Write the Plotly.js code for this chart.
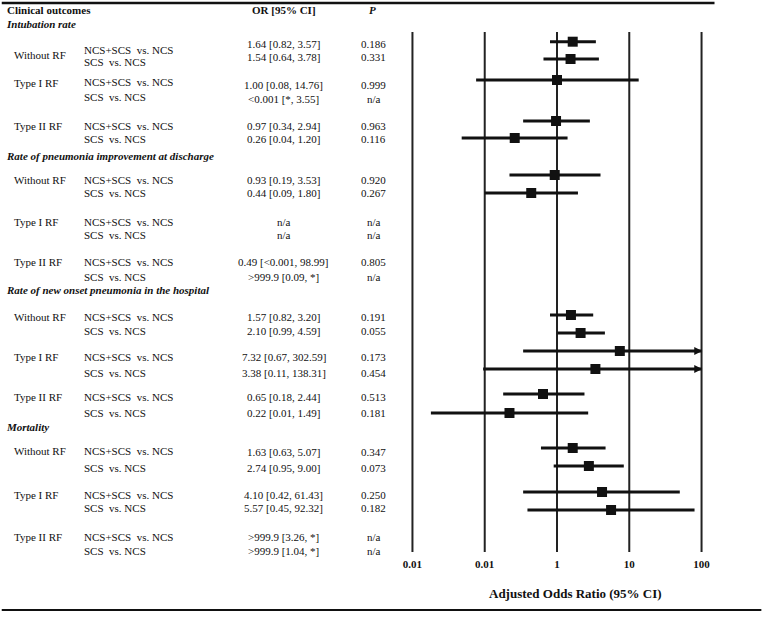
<!DOCTYPE html>
<html><head><meta charset="utf-8">
<script src="https://cdn.plot.ly/plotly-3.0.1.min.js"></script>
<style>html,body{margin:0;padding:0;background:#fff}#chart{width:764px;height:618px}</style>
</head><body><div id="chart"></div>
<script>
// ---------- data ----------
const headers = ["Clinical outcomes", "OR [95% CI]", "P"];
const outcomes = ["Intubation rate", "Rate of pneumonia improvement at discharge",
  "Rate of new onset pneumonia in the hospital", "Mortality"];
const groups = ["Without RF", "Type I RF", "Type II RF"];
const comparisons = ["NCS+SCS\u00a0 vs. NCS", "SCS\u00a0 vs. NCS"];
const orLabels = [
  "1.64 [0.82, 3.57]", "1.54 [0.64, 3.78]",
  "1.00 [0.08, 14.76]", "<0.001 [*, 3.55]",
  "0.97 [0.34, 2.94]", "0.26 [0.04, 1.20]",
  "0.93 [0.19, 3.53]", "0.44 [0.09, 1.80]",
  "n/a", "n/a",
  "0.49 [<0.001, 98.99]", ">999.9 [0.09, *]",
  "1.57 [0.82, 3.20]", "2.10 [0.99, 4.59]",
  "7.32 [0.67, 302.59]", "3.38 [0.11, 138.31]",
  "0.65 [0.18, 2.44]", "0.22 [0.01, 1.49]",
  "1.63 [0.63, 5.07]", "2.74 [0.95, 9.00]",
  "4.10 [0.42, 61.43]", "5.57 [0.45, 92.32]",
  ">999.9 [3.26, *]", ">999.9 [1.04, *]"
];
const pLabels = [
  "0.186", "0.331", "0.999", "n/a", "0.963", "0.116",
  "0.920", "0.267", "n/a", "n/a", "0.805", "n/a",
  "0.191", "0.055", "0.173", "0.454", "0.513", "0.181",
  "0.347", "0.073", "0.250", "0.182", "n/a", "n/a"
];
// plotted estimates, as drawn in the figure (null = not drawn)
const plotOR = [1.65, 1.54, 1.00, null, 0.97, 0.26,
  0.93, 0.44, null, null, null, null,
  1.56, 2.12, 7.4, 3.4, 0.64, 0.22,
  1.65, 2.76, 4.2, 5.6, null, null];
const plotLow = [0.80, 0.65, 0.076, null, 0.34, 0.048,
  0.22, 0.10, null, null, null, null,
  0.80, 1.02, 0.34, 0.095, 0.18, 0.018,
  0.60, 0.90, 0.34, 0.39, null, null];
const plotHigh = [3.45, 3.8, 13.5, null, 2.85, 1.4,
  4.0, 1.95, null, null, null, null,
  3.17, 4.6, 302.59, 138.31, 2.4, 2.7,
  4.7, 8.4, 50, 80, null, null];
const tickVals = [0.01, 0.1, 1, 10, 100];
const tickLabels = ["0.01", "0.01", "1", "10", "100"];
const axisTitle = "Adjusted Odds Ratio (95% CI)";

// ---------- layout positions (pixels) ----------
const sectionY = [24, 156, 290, 427];
const groupY = [55, 83, 126, 180, 222, 262, 317, 357, 397, 451, 495, 537];
const compY = [50, 62, 82, 97, 126, 139, 180, 193, 222, 235, 262, 277,
  317, 331, 357, 373, 397, 413, 451, 468, 495, 508, 537, 551];
const orY = [44, 57, 85, 99, 126, 139, 180, 193, 222, 235, 262, 277,
  317, 331, 357, 373, 397, 413, 452, 468, 495, 508, 537, 551];
const markY = [41.7, 59, 80, 97, 121, 138, 175, 193, 222, 235, 262, 277,
  315, 333, 351, 369, 394, 413, 448, 466, 492, 510, 537, 551];

const W = 764, H = 618;
const L = 397.5, R = 47.5, T = 32, B = 66;
const pw = W - L - R, ph = H - T - B;
const px = x => (x - L) / pw;
const py = y => (H - B - y) / ph;
const FONT = "Liberation Serif, Times New Roman, serif";
const INK = "#111";
const XMAX = 100;

const traces = [];
// vertical reference lines
const vx = [], vy = [];
tickVals.forEach(v => { vx.push(v, v, null); vy.push(T, H - B, null); });
traces.push({x: vx, y: vy, mode: "lines", line: {color: "#222", width: 2}, hoverinfo: "skip", showlegend: false});

// CI lines
const cx = [], cy = [], mx = [], my = [];
const arrows = [];
plotOR.forEach((v, i) => {
  if (v === null) return;
  const hi = Math.min(plotHigh[i], XMAX);
  cx.push(plotLow[i], hi, null); cy.push(markY[i], markY[i], null);
  mx.push(v); my.push(markY[i]);
  if (plotHigh[i] > XMAX) arrows.push(markY[i]);
});
traces.push({x: cx, y: cy, mode: "lines", line: {color: INK, width: 3}, hoverinfo: "skip", showlegend: false});
traces.push({x: mx, y: my, mode: "markers", marker: {symbol: "square", size: 10, color: INK}, showlegend: false});

const ann = [];
function txt(t, x, y, anchor, opts) {
  ann.push(Object.assign({text: t, xref: "paper", yref: "paper", x: px(x), y: py(y),
    xanchor: anchor, yanchor: "middle", showarrow: false,
    font: {family: FONT, size: 11, color: INK}}, opts || {}));
}
txt(headers[0], 3, 10, "left", {font: {family: FONT, size: 11, color: INK, weight: "bold"}});
txt(headers[1], 283, 10, "center", {font: {family: FONT, size: 11, color: INK, weight: "bold"}});
txt("<i>" + headers[2] + "</i>", 372, 10, "center", {font: {family: FONT, size: 11, color: INK, weight: "bold"}});

outcomes.forEach((o, k) => {
  txt("<i>" + o + "</i>", 2, sectionY[k], "left", {font: {family: FONT, size: 11, color: INK, weight: "bold"}});
  groups.forEach((g, j) => {
    const gi = k * 3 + j;
    txt(g, 10, groupY[gi], "left");
    comparisons.forEach((c, m) => {
      const r = gi * 2 + m;
      txt(c, 81, compY[r], "left");
      txt(orLabels[r], 283, orY[r], "center");
      txt(pLabels[r], 373, orY[r], "center");
    });
  });
});
txt(axisTitle, 576, 593, "center", {font: {family: FONT, size: 13, color: INK, weight: "bold"}});

arrows.forEach(y => {
  ann.push({xref: "x", yref: "y", axref: "x", ayref: "y", x: Math.log10(XMAX) + 0.01, y: y,
    ax: Math.log10(XMAX) - 0.1, ay: y, text: "", showarrow: true, arrowhead: 2,
    arrowsize: 0.8, arrowwidth: 2, arrowcolor: INK, standoff: 0});
});

const shapes = [
  {type: "line", xref: "paper", yref: "paper", x0: px(0), x1: px(715), y0: py(3), y1: py(3), line: {color: INK, width: 2.5}},
  {type: "line", xref: "paper", yref: "paper", x0: px(0), x1: px(762), y0: py(610), y1: py(610), line: {color: INK, width: 2}}
];

const layout = {
  width: W, height: H,
  margin: {l: L, r: R, t: T, b: B, pad: 0},
  paper_bgcolor: "#fff", plot_bgcolor: "#fff",
  showlegend: false,
  xaxis: {type: "log", range: [-2.2, 2.2], showgrid: false, zeroline: false, showline: false,
    tickvals: tickVals, ticktext: tickLabels, ticks: "", ticklabelstandoff: 4,
    tickfont: {family: FONT, size: 11, color: INK, weight: "bold"}},
  yaxis: {range: [H - B, T], showgrid: false, zeroline: false, showline: false, showticklabels: false, ticks: ""},
  annotations: ann,
  shapes: shapes
};
Plotly.newPlot("chart", traces, layout, {displayModeBar: false, staticPlot: true});
</script>
</body></html>
